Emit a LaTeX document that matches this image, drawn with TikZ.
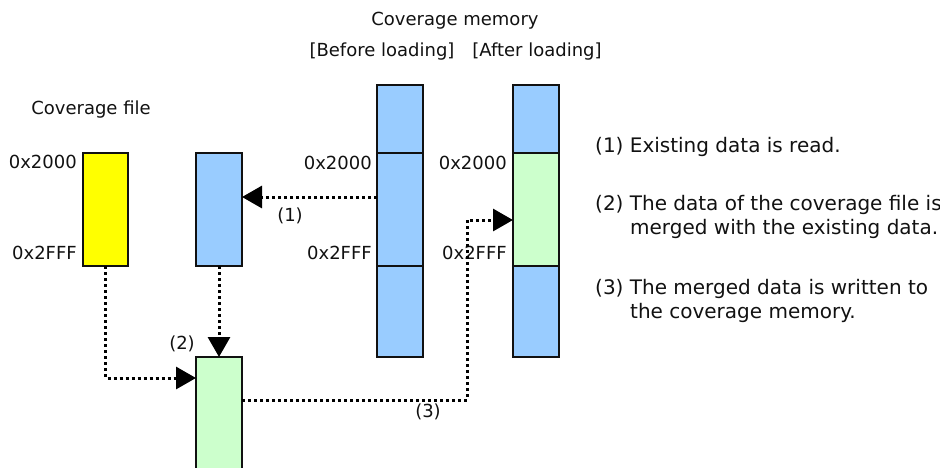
\documentclass[tikz,border=0pt]{standalone}
\usepackage{fontspec}
\setmainfont{DejaVu Sans}
\usetikzlibrary{arrows.meta}
\definecolor{cyel}{HTML}{FFFF00}
\definecolor{cblue}{HTML}{99CCFF}
\definecolor{cgreen}{HTML}{CCFFCC}
\definecolor{cink}{HTML}{111111}
\begin{document}
\begin{tikzpicture}[x=1pt,y=-1pt,
  box/.style={draw=cink, line width=1.4pt, inner sep=0pt, outer sep=0pt, minimum width=46pt},
  conn/.style={draw=black, line width=3pt, dash pattern=on 3pt off 3pt, -{Triangle[length=20pt,width=22pt]}},
  txt/.style={font=\fontsize{18}{24}\selectfont, inner sep=0pt, text=cink},
  legend/.style={font=\fontsize{20}{24}\selectfont, inner sep=0pt, text=cink, anchor=west},
]
\useasboundingbox (0,0) rectangle (940,467);
% boxes
\node[box, fill=cyel, minimum width=45pt, minimum height=113pt] (yel) at (105.5,209.5) {};
\node[box, fill=cblue, minimum height=113pt] (ext) at (219,209.5) {};
\node[box, fill=cgreen, minimum height=116pt] (mrg) at (219,415) {};
\node[box, fill=cblue, minimum height=68pt] (mb1) at (400,119) {};
\node[box, fill=cblue, minimum height=113pt] (mb2) at (400,209.5) {};
\node[box, fill=cblue, minimum height=91pt] (mb3) at (400,311.5) {};
\node[box, fill=cblue, minimum height=68pt] (ma1) at (536,119) {};
\node[box, fill=cgreen, minimum height=113pt] (ma2) at (536,209.5) {};
\node[box, fill=cblue, minimum height=91pt] (ma3) at (536,311.5) {};
% titles
\node[txt] (tfile) at (91,110) {Coverage file};
\node[txt] (tmem) at (455,21) {Coverage memory};
\node[txt] (tbef) at (382,52) {[Before loading]};
\node[txt] (taft) at (537,52) {[After loading]};
% address labels
\node[txt, anchor=east] (y2000) at (77,162) {0x2000};
\node[txt, anchor=east] (y2fff) at (77,253) {0x2FFF};
\node[txt, anchor=east] (b2000) at (372,163) {0x2000};
\node[txt, anchor=east] (b2fff) at (372,253) {0x2FFF};
\node[txt, anchor=east] (a2000) at (507,163) {0x2000};
\node[txt, anchor=east] (a2fff) at (507,253) {0x2FFF};
% step labels
\node[txt] (l1) at (290,216) {(1)};
\node[txt] (l2) at (182,344) {(2)};
\node[txt] (l3) at (428,412) {(3)};
% connectors
\coordinate (c3a) at (467,400);
\coordinate (c3b) at (467,220);
\draw[conn] (mb2.west |- 0,197) -- (ext.east |- 0,197);
\draw[conn] (ext.south) -- (mrg.north);
\draw[conn] (yel.south) |- (mrg.west |- 0,378);
\draw[conn] (mrg.east |- c3a) -- (c3a) -- (c3b) -- (ma2.west |- c3b);
% legend
\node[legend] (d1) at (595,147) {(1) Existing data is read.};
\node[legend] (d2a) at (595,205) {(2) The data of the coverage file is};
\node[legend] (d2b) at (630,229) {merged with the existing data.};
\node[legend] (d3a) at (595,289) {(3) The merged data is written to};
\node[legend] (d3b) at (630,313) {the coverage memory.};
\end{tikzpicture}
\end{document}
